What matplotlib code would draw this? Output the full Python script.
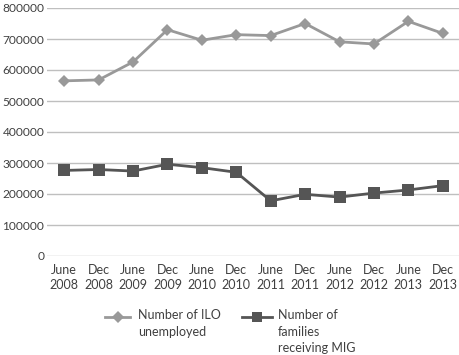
import matplotlib
matplotlib.use("Agg")
import matplotlib.pyplot as plt
from matplotlib.lines import Line2D

periods = ["June\n2008", "Dec\n2008", "June\n2009", "Dec\n2009", "June\n2010", "Dec\n2010",
           "June\n2011", "Dec\n2011", "June\n2012", "Dec\n2012", "June\n2013", "Dec\n2013"]
ilo_unemployed = [565000, 568000, 626000, 730000, 696000, 714000,
                  711000, 750000, 691000, 684000, 757000, 718000]
families_mig = [276000, 279000, 274000, 296000, 285000, 270000,
                178000, 199000, 190000, 203000, 213000, 227000]
yticks = [0, 100000, 200000, 300000, 400000, 500000, 600000, 700000, 800000]

plt.rcParams["font.family"] = ["Lato", "DejaVu Sans"]
text_color = "#404040"
light = "#999999"
dark = "#555555"

fig = plt.figure(figsize=(4.6, 3.55), dpi=100)
ax = fig.add_axes([47 / 460, 99 / 355, 413 / 460, 248 / 355])
x = range(len(periods))
ax.plot(x, ilo_unemployed, color=light, linewidth=2, marker="D", markersize=6.5,
        markeredgewidth=0)
ax.plot(x, families_mig, color=dark, linewidth=2, marker="s", markersize=8,
        markeredgewidth=0)

ax.set_xlim(-0.5, len(periods) - 0.5)
ax.set_ylim(0, 800000)
ax.set_yticks(yticks)
ax.set_yticklabels([str(v) for v in yticks])
ax.set_xticks(list(x))
ax.set_xticklabels(periods, linespacing=1.3)
ax.tick_params(length=0, labelcolor=text_color)
ax.tick_params(axis="x", pad=6, labelsize=9)
ax.tick_params(axis="y", pad=2, labelsize=8.6)
ax.grid(axis="y", color="#bfbfbf", linewidth=1)
ax.set_axisbelow(True)
for spine in ax.spines.values():
    spine.set_visible(False)

# legend laid out by hand so the markers sit on the first text line
key_y = 1 - 317 / 355
fig.add_artist(Line2D([105 / 460, 130 / 460], [key_y, key_y], color=light,
                      linewidth=2, transform=fig.transFigure))
fig.add_artist(Line2D([117.5 / 460], [key_y], color=light, marker="D",
                      markersize=6, markeredgewidth=0, transform=fig.transFigure))
fig.add_artist(Line2D([242 / 460, 272 / 460], [key_y, key_y], color=dark,
                      linewidth=2, transform=fig.transFigure))
fig.add_artist(Line2D([257 / 460], [key_y], color=dark, marker="s",
                      markersize=7, markeredgewidth=0, transform=fig.transFigure))
fig.text(138 / 460, 1 - 309 / 355, "Number of ILO\nunemployed", fontsize=9,
         color=text_color, va="top", linespacing=1.45)
fig.text(278 / 460, 1 - 309 / 355, "Number of\nfamilies\nreceiving MIG", fontsize=9,
         color=text_color, va="top", linespacing=1.45)

fig.savefig("out.png", dpi=100)
